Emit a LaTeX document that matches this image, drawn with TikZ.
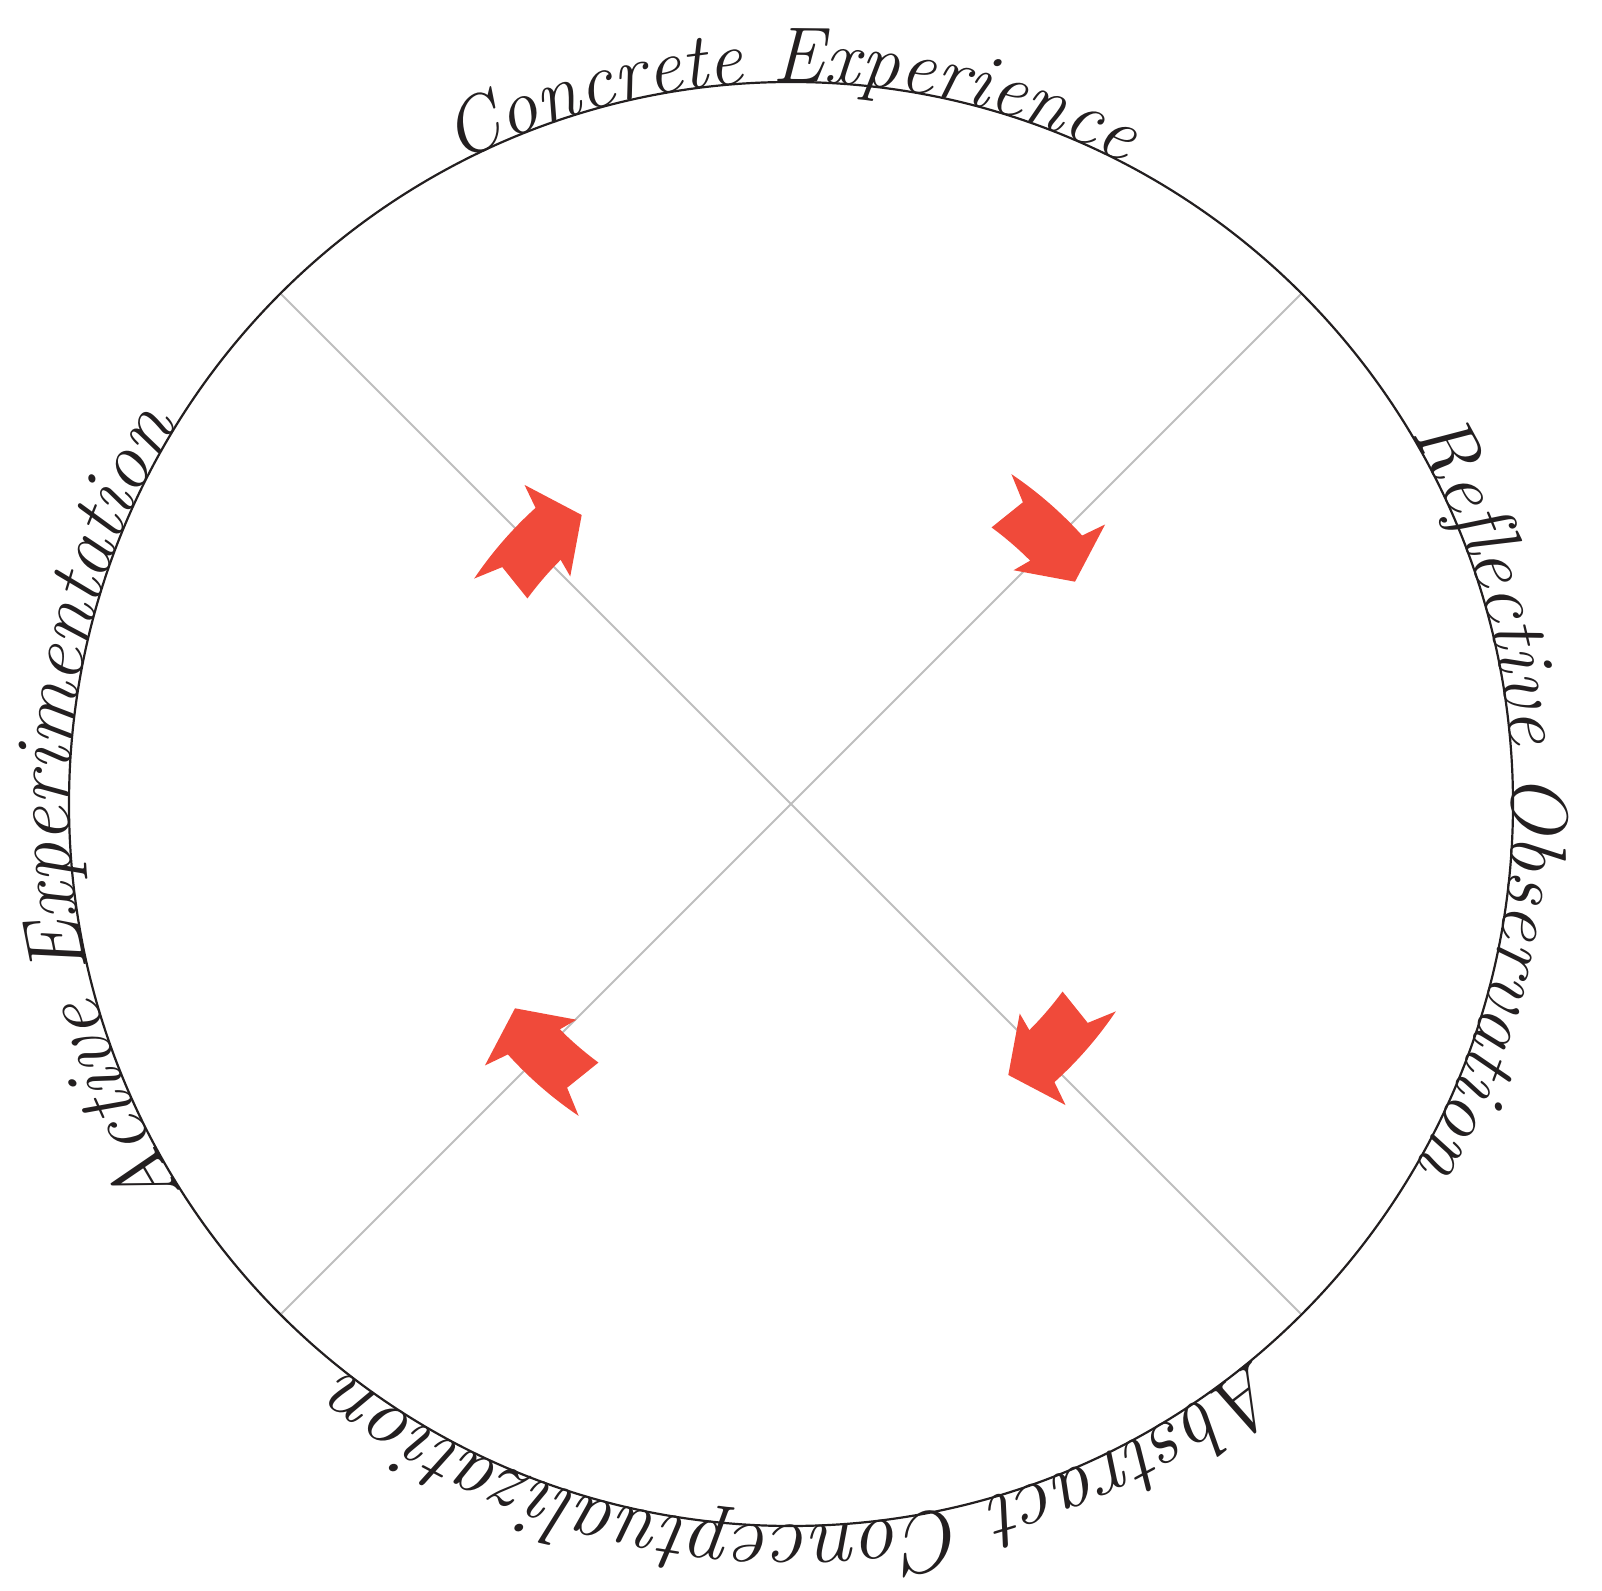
\documentclass[tikz,border=0pt]{standalone}
\usepackage{fontspec}
\usetikzlibrary{decorations.text,calc}
\definecolor{ink}{RGB}{35,31,32}
\definecolor{arrowred}{RGB}{240,74,58}
\definecolor{guide}{RGB}{190,190,190}
\newcommand\fCE{\fontsize{39}{46}\selectfont\itshape\color{ink}}
\newcommand\fRO{\fontsize{40}{47}\selectfont\itshape\color{ink}}
\newcommand\fAC{\fontsize{42.5}{50}\selectfont\itshape\color{ink}}
\newcommand\fAE{\fontsize{40}{47}\selectfont\itshape\color{ink}}
\newcommand\kolbarrow[1]{%
  \fill[cyclearrow, shift={(R)}, rotate=#1]
    (11:387) arc[start angle=11, end angle=-2.9, radius=387]
    -- (-3.9:411.5) -- (-7.7:352) -- (0.8:313.5) -- (-0.1:332)
    arc[start angle=-0.1, end angle=8.7, radius=332]
    -- (7.1:371) -- cycle;}
\begin{document}
\begin{tikzpicture}[x=0.5pt,y=0.5pt,
  ring/.style={draw=ink, line width=1.1pt},
  guideline/.style={draw=guide, line width=1pt},
  cyclearrow/.style={fill=arrowred, draw=none},
  arclabel/.style={decorate, decoration={text along path, text align=center, text={#1}}}]
\useasboundingbox (0,0) rectangle (1602,1591);
\coordinate (C) at (791,787);
\coordinate (R) at (795,796);
\coordinate (g1) at ($(C)+(135:722)$);
\coordinate (g2) at ($(C)+(-45:722)$);
\coordinate (g3) at ($(C)+(45:722)$);
\coordinate (g4) at ($(C)+(-135:722)$);
\draw[guideline] (g1) -- (g2);
\draw[guideline] (g3) -- (g4);
\draw[ring] (C) circle[radius=722];
\kolbarrow{135}
\kolbarrow{45}
\kolbarrow{-45}
\kolbarrow{-135}
\path[arclabel={|\fCE|Concrete Experience}] ($(C)+(125:722)$) arc[start angle=125, end angle=55, radius=722];
\path[arclabel={|\fRO|Reflective Observation}] ($(C)+(36:722)$) arc[start angle=36, end angle=-35, radius=722];
\path[arclabel={|\fAC|Abstract Conceptualization}] ($(C)+(-42:722)$) arc[start angle=-42, end angle=-136, radius=722];
\path[arclabel={|\fAE|Active Experimentation}] ($(C)+(222:722)$) arc[start angle=222, end angle=139, radius=722];
\end{tikzpicture}
\end{document}
